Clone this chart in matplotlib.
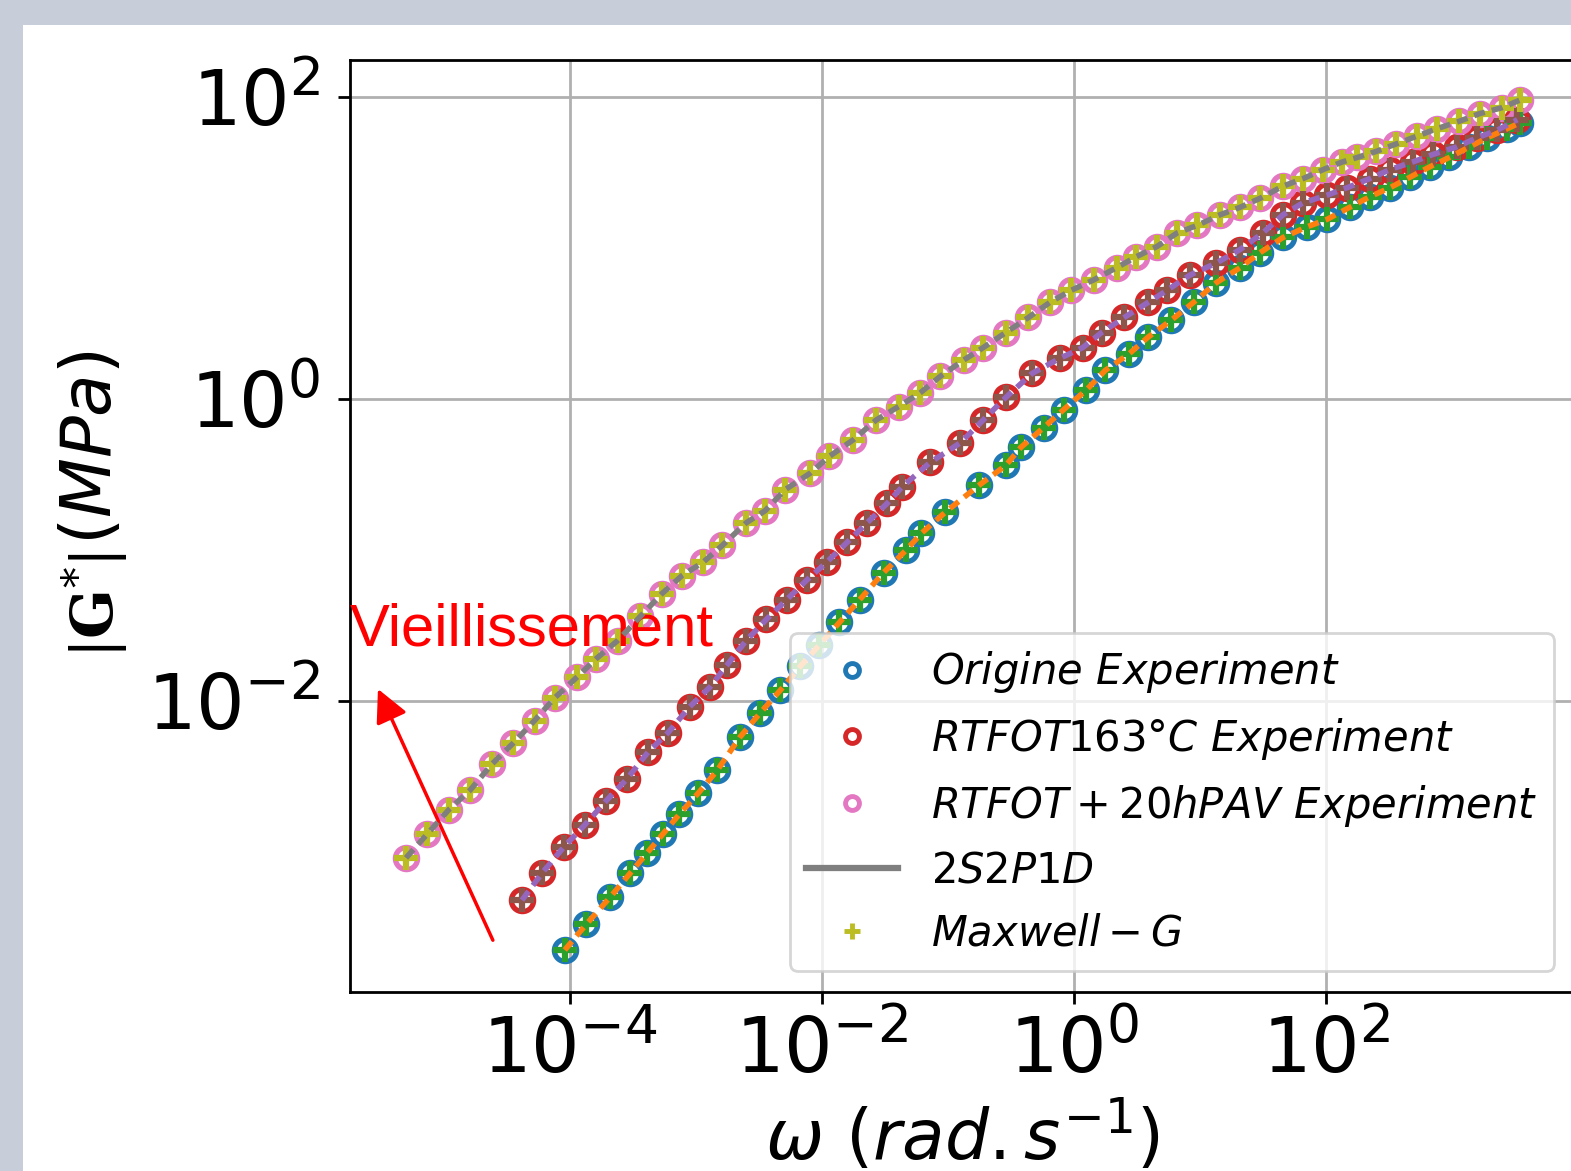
import matplotlib
matplotlib.use("Agg")
import numpy as np
import matplotlib.pyplot as plt
from matplotlib.lines import Line2D
from matplotlib.patches import Rectangle

# values, as log10(omega) and log10(|G*|)
orig_logw = [-4.04, -3.87, -3.68, -3.52, -3.39, -3.26, -3.13, -2.98, -2.83, -2.65,
             -2.49, -2.33, -2.17, -2.02, -1.86, -1.70, -1.51, -1.33, -1.21, -1.02,
             -0.75, -0.54, -0.42, -0.24, -0.08, 0.10, 0.25, 0.44, 0.59, 0.77,
             0.95, 1.13, 1.32, 1.48, 1.66, 1.85, 2.01, 2.19, 2.35, 2.51,
             2.67, 2.83, 2.98, 3.14, 3.28, 3.44, 3.54]
orig_logg = [-3.65, -3.48, -3.30, -3.14, -3.01, -2.88, -2.75, -2.61, -2.46, -2.24,
             -2.08, -1.93, -1.77, -1.63, -1.48, -1.33, -1.15, -1.00, -0.89, -0.75,
             -0.57, -0.44, -0.32, -0.19, -0.07, 0.06, 0.19, 0.30, 0.41, 0.52,
             0.64, 0.77, 0.87, 0.97, 1.07, 1.14, 1.19, 1.27, 1.34, 1.40,
             1.47, 1.54, 1.60, 1.67, 1.73, 1.79, 1.83]

rtfot_logw = [-4.38, -4.22, -4.05, -3.88, -3.71, -3.55, -3.38, -3.22, -3.05, -2.89,
              -2.75, -2.60, -2.44, -2.28, -2.12, -1.96, -1.80, -1.64, -1.48, -1.36,
              -1.14, -0.90, -0.72, -0.54, -0.33, -0.11, 0.07, 0.22, 0.40, 0.59,
              0.74, 0.92, 1.13, 1.32, 1.50, 1.66, 1.82, 2.01, 2.17, 2.35,
              2.51, 2.69, 2.85, 3.04, 3.20, 3.36, 3.52]
rtfot_logg = [-3.32, -3.14, -2.97, -2.82, -2.66, -2.52, -2.34, -2.21, -2.04, -1.91,
              -1.76, -1.60, -1.46, -1.33, -1.20, -1.08, -0.95, -0.82, -0.69, -0.58,
              -0.42, -0.29, -0.14, 0.01, 0.17, 0.27, 0.34, 0.44, 0.54, 0.64,
              0.72, 0.82, 0.90, 0.99, 1.10, 1.22, 1.30, 1.35, 1.40, 1.46,
              1.52, 1.57, 1.62, 1.67, 1.73, 1.78, 1.85]

pav_logw = [-5.30, -5.13, -4.96, -4.79, -4.62, -4.45, -4.28, -4.12, -3.94, -3.79,
            -3.62, -3.44, -3.27, -3.11, -2.94, -2.79, -2.60, -2.45, -2.29, -2.09,
            -1.94, -1.75, -1.57, -1.39, -1.22, -1.06, -0.87, -0.72, -0.54, -0.36,
            -0.19, -0.02, 0.16, 0.34, 0.49, 0.66, 0.82, 0.98, 1.16, 1.32,
            1.48, 1.66, 1.82, 1.98, 2.13, 2.25, 2.40, 2.56, 2.72, 2.88,
            3.06, 3.22, 3.40, 3.54]
pav_logg = [-3.04, -2.88, -2.72, -2.59, -2.42, -2.28, -2.13, -1.98, -1.84, -1.72,
            -1.60, -1.44, -1.29, -1.17, -1.08, -0.97, -0.82, -0.74, -0.60, -0.49,
            -0.38, -0.27, -0.14, -0.05, 0.04, 0.15, 0.26, 0.34, 0.44, 0.54,
            0.64, 0.72, 0.79, 0.87, 0.94, 1.01, 1.10, 1.15, 1.22, 1.27,
            1.33, 1.41, 1.46, 1.52, 1.57, 1.60, 1.64, 1.69, 1.74, 1.79,
            1.84, 1.89, 1.93, 1.98]

legend_labels = [r"$Origine\ Experiment$", r"$RTFOT163°C\ Experiment$",
                 r"$RTFOT + 20hPAV\ Experiment$", r"$2S2P1D$", r"$Maxwell-G$"]

W, H = 1571, 1171
fig = plt.figure(figsize=(W / 100, H / 100), dpi=100)
fig.patch.set_facecolor("#c8cdda")
fig.add_artist(Rectangle((23 / W, 0), 1, 1 - 25 / H, transform=fig.transFigure,
                         facecolor="white", edgecolor="none", zorder=-10))

ax = fig.add_axes([350 / W, 179 / H, 1225 / W, 932 / H])

series = [(orig_logw, orig_logg, "C0", "C1", "C2"),
          (rtfot_logw, rtfot_logg, "C3", "C4", "C5"),
          (pav_logw, pav_logg, "C6", "C7", "C8")]
for lw_, lg_, c_exp, c_fit, c_max in series:
    w = np.power(10.0, lw_)
    g = np.power(10.0, lg_)
    ax.plot(w, g, "o", mfc="none", mec=c_exp, ms=16, mew=3.8, zorder=2)
    ax.plot(w, g, "+", color=c_max, ms=17, mew=4.5, zorder=3)
    ax.plot(w, g, "--", color=c_fit, lw=4, dashes=(2.0, 1.3), zorder=4)

ax.set_xscale("log")
ax.set_yscale("log")
ax.set_xlim(1.8e-6, 9.5e3)
ax.set_ylim(1.18e-4, 1.76e2)
ax.set_xticks([1e-4, 1e-2, 1e0, 1e2])
ax.set_yticks([1e-2, 1e0, 1e2])
ax.minorticks_off()
ax.tick_params(labelsize=55, length=8.5, width=2)
ax.tick_params(axis="y", pad=13)
ax.tick_params(axis="x", pad=8)
for s in ax.spines.values():
    s.set_linewidth(2)
ax.grid(True, color="#b0b0b0", lw=2)

ax.set_xlabel(r"$\omega\ (rad.s^{-1})$", fontsize=50, labelpad=6)
fig.text(92 / W, 1 - 448 / H, r"$(MPa)$", rotation=90, fontsize=50,
         ha="center", va="center")
fig.text(95 / W, 1 - 605 / H, r"$|\mathbf{G}^{*}|$", rotation=90, fontsize=42,
         ha="center", va="center", math_fontfamily="dejavuserif")

ax.text(0.0, 0.372, "Vieillissement", transform=ax.transAxes, color="red",
        fontsize=43, family="Liberation Sans", ha="left", va="baseline")
ax.annotate("", xy=(3.0e-6, 1.2e-2), xytext=(2.45e-5, 2.6e-4),
            arrowprops=dict(arrowstyle="-|>", color="red", lw=2.5,
                            mutation_scale=50, shrinkA=0, shrinkB=0))

handles = [Line2D([], [], ls="none", marker="o", mfc="none", mec="C0", ms=10, mew=3.5),
           Line2D([], [], ls="none", marker="o", mfc="none", mec="C3", ms=10, mew=3.5),
           Line2D([], [], ls="none", marker="o", mfc="none", mec="C6", ms=10, mew=3.5),
           Line2D([], [], color="C7", lw=4.5),
           Line2D([], [], ls="none", marker="+", color="C8", ms=12, mew=3.5)]
leg = ax.legend(handles, legend_labels, loc="lower right", fontsize=30,
                handlelength=2.2, framealpha=0.8)
leg.get_frame().set_linewidth(2)

fig.savefig("out.png", dpi=100)
